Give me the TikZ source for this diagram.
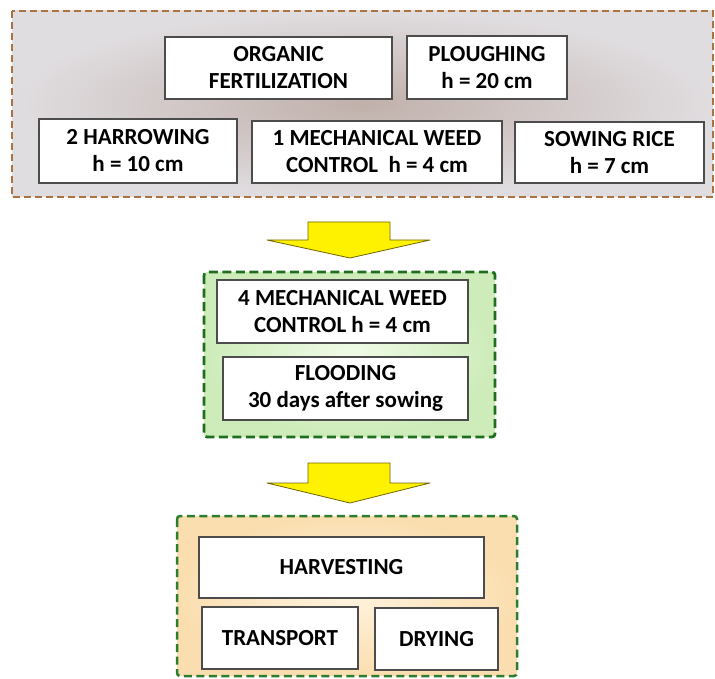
\documentclass[tikz,border=0pt]{standalone}
\usepackage{fontspec}
\setmainfont{Carlito}
\usetikzlibrary{shadows}

\begin{document}
\begin{tikzpicture}[x=1pt, y=-1pt,
  task/.style={draw=black!70, fill=white, line width=1.3pt, align=center,
    font=\fontsize{23}{27}\selectfont\bfseries, inner sep=0pt,
    drop shadow={opacity=0.3, shadow xshift=1.3pt, shadow yshift=-1.3pt}},
  yarrow/.style={draw=arrowline, fill=yellow, line width=0.8pt, line join=round}]

% Colors
\definecolor{soilline}{RGB}{170,115,65}   % brown
\definecolor{soilin}{RGB}{192,176,170}
\definecolor{soilout}{RGB}{224,221,224}
\definecolor{growline}{RGB}{30,110,30}    % dark green
\definecolor{growin}{RGB}{240,251,232}
\definecolor{growout}{RGB}{205,236,185}
\definecolor{cropline}{RGB}{45,125,45}    % green
\definecolor{cropin}{RGB}{255,243,222}
\definecolor{cropout}{RGB}{250,222,175}
\definecolor{arrowline}{RGB}{110,100,0}

\useasboundingbox (0,0) rectangle (715,679);

% === SOIL PREPARATION ===
\draw[draw=soilline, line width=2.5pt, dash pattern=on 7pt off 4pt,
  inner color=soilin, outer color=soilout] (12,11) rectangle (713,197);

\node[task, minimum width=227pt, minimum height=62pt] (org) at (278.5,68) {ORGANIC\\FERTILIZATION};
\node[task, minimum width=160pt, minimum height=63pt] (plough) at (487,67.5) {PLOUGHING\\h = 20 cm};

\node[task, minimum width=198pt, minimum height=64pt] (harrow) at (138,151) {2 HARROWING\\h = 10 cm};
\node[task, minimum width=250pt, minimum height=62pt] (weedA) at (377,152) {1 MECHANICAL WEED\\CONTROL\ \ h = 4 cm};
\node[task, minimum width=189pt, minimum height=61pt] (sow) at (609.5,152.5) {SOWING RICE\\h = 7 cm};

% === Arrow ===
\draw[yarrow] (308,222) -- (390,222) -- (390,240) -- (430,240) -- (350,258) -- (267,240) -- (308,240) -- cycle;

% === CROP GROWTH ===
\draw[draw=growline, line width=2.8pt, dash pattern=on 9pt off 4.5pt, rounded corners=3pt,
  inner color=growin, outer color=growout] (204,272) rectangle (495,437);

\node[task, minimum width=251pt, minimum height=63pt] (weedB) at (342.5,311.5) {4 MECHANICAL WEED\\CONTROL h = 4 cm};
\node[task, minimum width=245pt, minimum height=63pt] (flood) at (345.5,388.5) {FLOODING\\30 days after sowing};

% === Arrow ===
\draw[yarrow] (308,463) -- (390,463) -- (390,483) -- (430,483) -- (350,503) -- (267,483) -- (308,483) -- cycle;

% === HARVEST ===
\draw[draw=cropline, line width=2.5pt, dash pattern=on 8pt off 4.5pt, rounded corners=3pt,
  inner color=cropin, outer color=cropout] (177,516) rectangle (517,676);

\node[task, minimum width=285pt, minimum height=61pt] (harvest) at (341.5,567.5) {HARVESTING};
\node[task, minimum width=156pt, minimum height=62pt] (transport) at (280,638) {TRANSPORT};
\node[task, minimum width=123pt, minimum height=62pt] (drying) at (436.5,639) {DRYING};

\end{tikzpicture}
\end{document}
